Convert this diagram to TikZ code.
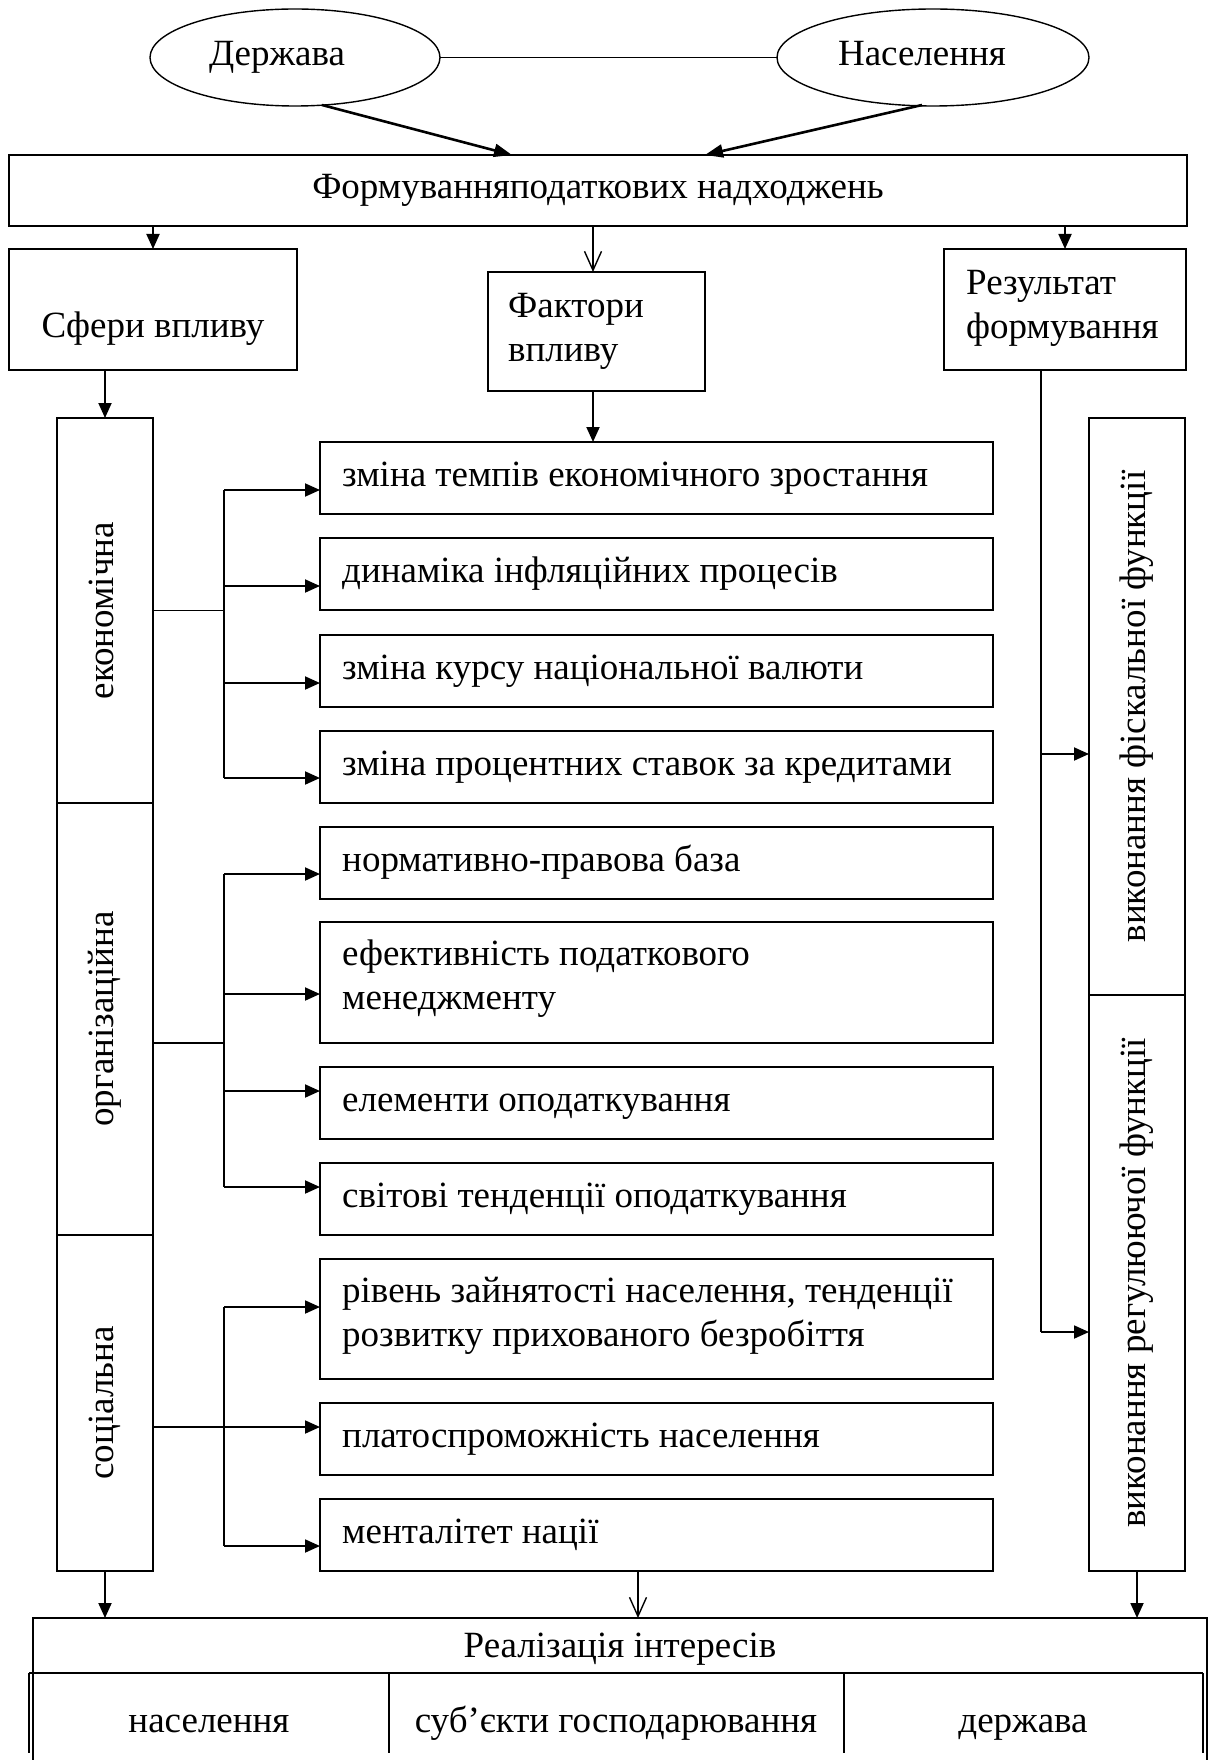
\documentclass[tikz,border=0pt]{standalone}
\usepackage{fontspec}
\setmainfont{Liberation Serif}
\usetikzlibrary{arrows.meta,shapes.geometric,calc}
\begin{document}
\begin{tikzpicture}[x=1pt,y=-1pt,
  txt/.style={font=\fontsize{37}{44}\selectfont,inner sep=0pt,text height=25pt,text depth=8pt},
  mltxt/.style={font=\fontsize{37}{44}\selectfont,inner sep=0pt,align=left},
  box/.style={draw,line width=1.9pt,inner sep=0pt,outer sep=0pt},
  oval/.style={draw,ellipse,line width=1.4pt,inner sep=0pt,outer sep=0pt},
  arr/.style={line width=1.9pt,-{Triangle[length=15pt,width=13pt]}},
  bigarr/.style={line width=2.6pt,-{Triangle[length=18pt,width=13pt]}},
  openarr/.style={line width=1.4pt,-{Straight Barb[length=19pt,width=17pt,line width=1.4pt]}},
  link/.style={line width=1.4pt},
  bus/.style={line width=1.9pt}]
\useasboundingbox (0,0) rectangle (1216,1760);
% top ellipses
\node[oval,minimum width=290pt,minimum height=97pt] (derzh) at (295,57.5) {};
\node[txt] (derzht) at (277,57.5) {Держава};
\node[oval,minimum width=312pt,minimum height=97pt] (nas) at (933,57.5) {};
\node[txt] (nast) at (922,57.5) {Населення};
\draw[link] (derzh.east) -- (nas.west);
% formation box
\node[box,minimum width=1178pt,minimum height=71pt] (form) at (598,190.5) {};
\node[txt] (formt) at (598,190.5) {Формуванняподаткових надходжень};
\coordinate (dA) at (322,105);
\coordinate (dB) at (512,155);
\coordinate (nA) at (922,105);
\coordinate (nB) at (705,155);
\draw[bigarr] (dA) -- (dB);
\draw[bigarr] (nA) -- (nB);
% second row
\node[box,minimum width=288pt,minimum height=121pt] (sfery) at (153,309.5) {};
\node[txt] (sferyt) at (153,329) {Сфери впливу};
\node[box,minimum width=217pt,minimum height=119pt] (fakt) at (596.5,331.5) {};
\node[mltxt,anchor=west] (faktt) at (508,331.5) {Фактори\\впливу};
\node[box,minimum width=242pt,minimum height=121pt] (rez) at (1065,309.5) {};
\node[mltxt,anchor=west] (rezt) at (966,308.5) {Результат\\формування};
\draw[arr] (form.south -| sfery.north) -- (sfery.north);
\coordinate (fm) at (593,272);
\draw[openarr] (form.south -| fm) -- (fm);
\draw[arr] (form.south -| rez.north) -- (rez.north);
% left column
\node[box,minimum width=96pt,minimum height=385pt] (econ) at (105,610.5) {};
\node[txt,rotate=90] (econt) at (105,610.5) {економічна};
\node[box,minimum width=96pt,minimum height=432pt] (org) at (105,1019) {};
\node[txt,rotate=90] (orgt) at (105,1019) {організаційна};
\node[box,minimum width=96pt,minimum height=336pt] (soc) at (105,1403) {};
\node[txt,rotate=90] (soct) at (105,1403) {соціальна};
\draw[arr] (sfery.south -| econ.north) -- (econ.north);
% right column
\node[box,minimum width=96pt,minimum height=577pt] (fisc) at (1137,706.5) {};
\node[txt,rotate=90] (fisct) at (1137,706.5) {виконання фіскальної функції};
\node[box,minimum width=96pt,minimum height=576pt] (reg) at (1137,1283) {};
\node[txt,rotate=90] (regt) at (1137,1283) {виконання регулюючої функції};
\coordinate (rx) at (1041,0);
\coordinate (ra) at (1089,754);
\coordinate (rb) at (1089,1332);
\draw[bus] (rez.south -| rx) -- (rb -| rx);
\draw[arr] (ra -| rx) -- (ra);
\draw[arr] (rb -| rx) -- (rb);
% factor boxes
\foreach \n/\t/\b in {f1/442/514,f2/538/610,f3/635/707,f4/731/803,f5/827/899,f6/922/1043,f7/1067/1139,f8/1163/1235,f9/1259/1379,f10/1403/1475,f11/1499/1571}{
  \node[box,minimum width=673pt,minimum height={\b-\t}] (\n) at (656.5,{(\t+\b)/2}) {};
}
\node[txt,anchor=west] (f1t) at (342,478) {зміна темпів економічного зростання};
\node[txt,anchor=west] (f2t) at (342,574) {динаміка інфляційних процесів};
\node[txt,anchor=west] (f3t) at (342,671) {зміна курсу національної валюти};
\node[txt,anchor=west] (f4t) at (342,767) {зміна процентних ставок за кредитами};
\node[txt,anchor=west] (f5t) at (342,863) {нормативно-правова база};
\node[mltxt,anchor=west] (f6t) at (342,979) {ефективність податкового\\менеджменту};
\node[txt,anchor=west] (f7t) at (342,1103) {елементи оподаткування};
\node[txt,anchor=west] (f8t) at (342,1199) {світові тенденції оподаткування};
\node[mltxt,anchor=west] (f9t) at (342,1316) {рівень зайнятості населення, тенденції\\розвитку прихованого безробіття};
\node[txt,anchor=west] (f10t) at (342,1439) {платоспроможність населення};
\node[txt,anchor=west] (f11t) at (342,1535) {менталітет нації};
\draw[arr] (fakt.south -| fm) -- (f1.north -| fm);
% buses
\coordinate (bx) at (224,0);
\coordinate (t1) at (320,490);
\coordinate (t2) at (320,586);
\coordinate (t3) at (320,683);
\coordinate (t4) at (320,778);
\coordinate (t5) at (320,874);
\coordinate (t6) at (320,994);
\coordinate (t7) at (320,1091);
\coordinate (t8) at (320,1187);
\coordinate (t9) at (320,1307);
\coordinate (t10) at (320,1427);
\coordinate (t11) at (320,1546);
\coordinate (oj) at (153,1043);
\draw[link] (econ.east) -- (econ.east -| bx);
\draw[bus] (t1 -| bx) -- (t4 -| bx);
\foreach \k in {t1,t2,t3,t4}{\draw[arr] (\k -| bx) -- (\k);}
\draw[link] (oj) -- (oj -| bx);
\draw[bus] (t5 -| bx) -- (t8 -| bx);
\foreach \k in {t5,t6,t7,t8}{\draw[arr] (\k -| bx) -- (\k);}
\draw[link] (t10 -| soc.east) -- (t10 -| bx);
\draw[bus] (t9 -| bx) -- (t11 -| bx);
\foreach \k in {t9,t10,t11}{\draw[arr] (\k -| bx) -- (\k);}
% bottom table
\coordinate (btop) at (620,1618);
\coordinate (mx) at (638,0);
\draw[link,line width=1.6pt] (33,1760) -- (33,1618) -- (1207,1618) -- (1207,1760);
\node[txt] (real) at (620,1649) {Реалізація інтересів};
\draw[line width=1.6pt] (29,1673) -- (1203,1673);
\foreach \xx in {29,389,844,1203}{\draw[line width=1.6pt] (\xx,1673) -- (\xx,1753);}
\node[txt] (c1) at (209,1724) {населення};
\node[txt] (c2) at (616,1724) {суб’єкти господарювання};
\node[txt] (c3) at (1023,1724) {держава};
\draw[arr] (soc.south) -- (soc.south |- btop);
\draw[openarr] (f11.south -| mx) -- (btop -| mx);
\draw[arr] (reg.south) -- (reg.south |- btop);
\end{tikzpicture}
\end{document}
